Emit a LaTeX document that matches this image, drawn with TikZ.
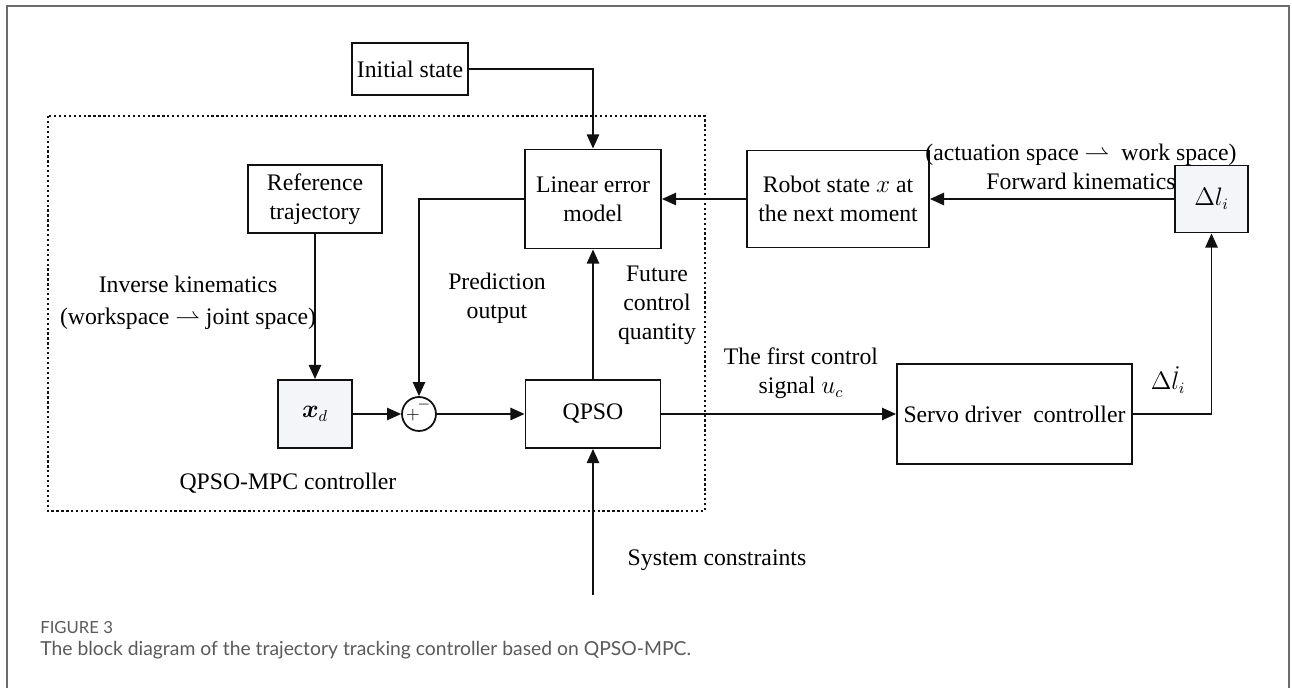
\documentclass[tikz,border=0pt]{standalone}
\usepackage{fontspec}
\usepackage{amsmath}
\usetikzlibrary{arrows.meta, calc, positioning}
\setmainfont{Liberation Serif}
\newfontfamily\capfont{Lato}
\definecolor{Ink}     {HTML}{111111}
\definecolor{Frame}   {HTML}{6B6B6B}
\definecolor{CapGray} {HTML}{5A5A5A}
\definecolor{BoxF}    {HTML}{F3F5F9}
\newcommand{\diagfont}{\fontsize{13.5}{16.5}\selectfont}
\tikzset{
  blk/.style={
    rectangle, draw=Ink, line width=1.1pt,
    font=\diagfont, align=center, inner sep=2pt,
  },
  sumnode/.style={
    circle, draw=Ink, line width=1pt,
    minimum size=0.68cm, inner sep=0pt,
  },
  arr/.style={
    -{Triangle[length=8pt,width=7pt]},
    line width=0.9pt, color=Ink,
  },
  lbl/.style={
    font=\diagfont, align=center, inner sep=1pt,
  },
  region/.style={
    draw=Ink, line width=1.3pt, dash pattern=on 1.3pt off 1.5pt,
  },
  captxt/.style={
    anchor=west, text=CapGray, inner sep=0pt,
  },
}

\begin{document}
\begin{tikzpicture}[x=0.02cm,y=-0.02cm]
    \useasboundingbox (0,0) rectangle (1292,688);
    \draw[Frame, line width=1.6pt] (7,688) -- (7,6) -- (1289,6) -- (1289,688);
    \draw[region] (48,116) rectangle (705,511);
    % blocks
    \node[blk, minimum width=2.32cm, minimum height=1.04cm] (init) at (410,69)
        {Initial state};
    \node[blk, minimum width=2.68cm, minimum height=1.36cm] (ref) at (315,199)
        {Reference\\trajectory};
    \node[blk, minimum width=2.72cm, minimum height=1.98cm] (lem) at (593,199)
        {Linear error\\model};
    \node[blk, minimum width=3.64cm, minimum height=1.94cm] (robot) at (838,199)
        {Robot state $x$ at\\the next moment};
    \node[blk, fill=BoxF, minimum width=1.46cm, minimum height=1.34cm] (dl)
        at (1211.5,199) {$\Delta l_i$};
    \node[blk, fill=BoxF, minimum width=1.48cm, minimum height=1.36cm] (xd)
        at (315,414) {$\boldsymbol{x}_d$};
    \node[sumnode] (sum) at (419,414) {};
    \node[inner sep=0pt] (plus) at ($(sum.center)+(-6,1)$) {$+$};
    \node[font=\small, inner sep=0pt] (minus) at ($(sum.center)+(5,-9)$) {$-$};
    \node[blk, minimum width=2.7cm, minimum height=1.36cm] (qpso) at (593,414)
        {QPSO};
    \node[blk, minimum width=4.7cm, minimum height=2.0cm] (servo) at (1014.5,414)
        {Servo driver\ \ controller};
    \coordinate (cons) at (593,595);
    % connectors
    \draw[arr] (init.east) -| (lem.north);
    \draw[arr] (dl.west) -- (robot.east);
    \draw[arr] (robot.west) -- (lem.east);
    \draw[arr] (lem.west) -| (sum.north);
    \draw[arr] (ref.south) -- (xd.north);
    \draw[arr] (xd.east) -- (sum.west);
    \draw[arr] (sum.east) -- (qpso.west);
    \draw[arr] (qpso.north) -- (lem.south);
    \draw[arr] (qpso.east) -- (servo.west);
    \draw[arr] (servo.east) -| (dl.south);
    \draw[arr] (cons) -- (qpso.south);
    % labels
    \node[lbl] (ik) at (188,303)
        {Inverse kinematics\\[2pt](workspace $\rightharpoonup$ joint space)};
    \node[lbl] (pred) at (497,298) {Prediction\\output};
    \node[lbl] (fut) at (657,305) {Future\\control\\quantity};
    \node[lbl] (first) at (801,373) {The first control\\signal $u_c$};
    \node[lbl] (fk) at (1081,167)
        {(actuation space $\rightharpoonup$\ \ work space)\\Forward kinematics};
    \node[lbl, inner sep=0pt] (dldot) at (1168,380) {$\Delta\dot{l}_i$};
    \node[lbl] (sysc) at (717,560) {System constraints};
    \node[lbl] (mpc) at (288,483) {QPSO-MPC controller};
    % caption
    \node[captxt, font=\capfont\fontsize{9.5}{11}\selectfont] (fig) at (40,628)
        {FIGURE 3};
    \node[captxt, font=\capfont\fontsize{11}{13}\selectfont] (capt) at (40,650)
        {The block diagram of the trajectory tracking controller based on QPSO-MPC.};
\end{tikzpicture}
\end{document}
